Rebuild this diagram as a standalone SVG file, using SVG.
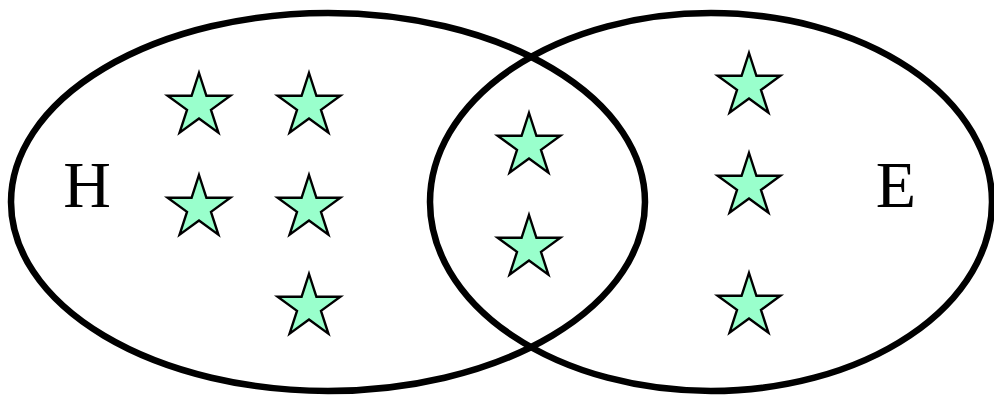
<svg xmlns="http://www.w3.org/2000/svg" xmlns:xlink="http://www.w3.org/1999/xlink" width="994" height="395" viewBox="0 0 994 395">
<style>
.set{fill:none;stroke:#000;stroke-width:6.5}
.star{fill:#99ffcc;stroke:#000;stroke-width:2.4;stroke-linejoin:miter}
.lbl{font-family:'Liberation Serif','Times New Roman',Times,serif;font-size:66px;fill:#000;text-anchor:middle}
</style>
<defs>
<polygon id="st" points="0,-33 7.41,-10.2 31.38,-10.2 11.99,3.9 19.4,26.7 0,12.6 -19.4,26.7 -11.99,3.9 -31.38,-10.2 -7.41,-10.2"/>
</defs>
<g id="setH">
<ellipse class="set" cx="328" cy="202" rx="317" ry="189"/>
<text class="lbl" x="87" y="207">H</text>
</g>
<g id="setE">
<ellipse class="set" cx="711" cy="202" rx="281" ry="189"/>
<text class="lbl" x="896" y="207">E</text>
</g>
<g id="stars">
<use class="star" xlink:href="#st" x="199" y="106"/>
<use class="star" xlink:href="#st" x="309" y="106"/>
<use class="star" xlink:href="#st" x="199" y="208"/>
<use class="star" xlink:href="#st" x="309" y="208"/>
<use class="star" xlink:href="#st" x="309" y="307"/>
<use class="star" xlink:href="#st" x="529" y="146"/>
<use class="star" xlink:href="#st" x="529" y="248"/>
<use class="star" xlink:href="#st" x="749" y="86"/>
<use class="star" xlink:href="#st" x="749" y="186"/>
<use class="star" xlink:href="#st" x="749" y="306"/>
</g>
<g id="connectors"/>
</svg>
